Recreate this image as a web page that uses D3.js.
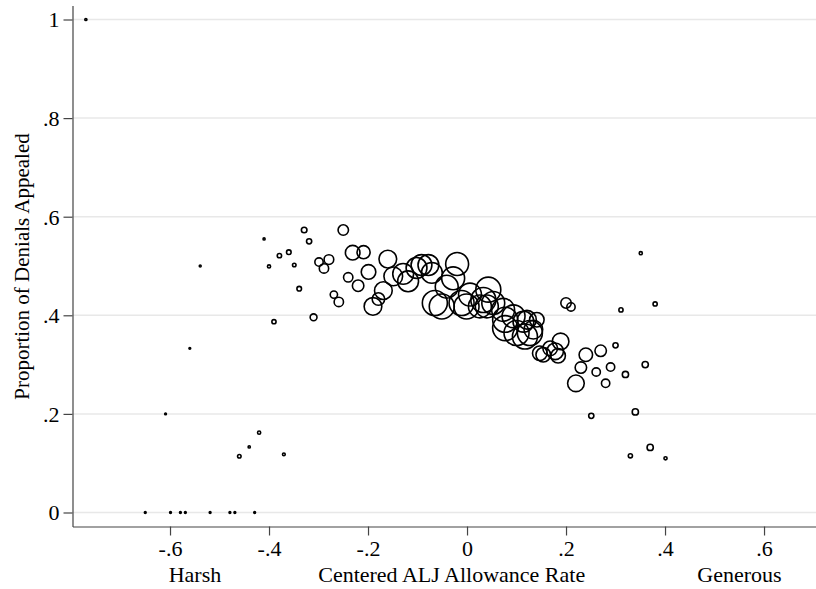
<!DOCTYPE html>
<html>
<head>
<meta charset="utf-8">
<script src="https://cdn.jsdelivr.net/npm/d3@7"></script>
<style>
  body { margin: 0; background: #fff; }
  svg text { font-family: "Liberation Serif", "Times New Roman", serif; fill: #000; }
</style>
</head>
<body>
<svg></svg>
<script>
var width = 816;
var height = 589;

// centered ALJ allowance rate (x), proportion of denials appealed (y), caseload (marker weight)
var allowance = [
  -0.770, -0.650, -0.599, -0.579, -0.569, -0.519, -0.479, -0.469, -0.429,
  -0.609, -0.560, -0.539, -0.440, -0.420, -0.460, -0.370, -0.390, -0.410,
  -0.400, -0.379, -0.360, -0.349, -0.339, -0.329, -0.319, -0.310, -0.250,
  -0.299, -0.279, -0.289, -0.231, -0.209, -0.240, -0.220, -0.199, -0.269,
  -0.259, -0.160, -0.190, -0.179, -0.169, -0.149, -0.129, -0.119, -0.102,
  -0.092, -0.078, -0.071, -0.020, -0.041, -0.028, -0.065, -0.051, -0.011,
  -0.001, 0.006, 0.033, 0.043, 0.026, 0.053, 0.077, 0.094, 0.121,
  0.100, 0.127, 0.141, 0.147, 0.040, 0.073, 0.114, 0.077, 0.117,
  0.134, 0.154, 0.168, 0.178, 0.189, 0.184, 0.200, 0.210, 0.311,
  0.380, 0.351, 0.300, 0.240, 0.270, 0.230, 0.261, 0.290, 0.320,
  0.360, 0.220, 0.280, 0.251, 0.340, 0.370, 0.330, 0.401
];
var appealed = [
  1.000, 0, 0, 0, 0, 0, 0, 0, 0,
  0.200, 0.333, 0.500, 0.133, 0.162, 0.114, 0.118, 0.387, 0.555,
  0.499, 0.521, 0.528, 0.502, 0.454, 0.573, 0.550, 0.396, 0.573,
  0.508, 0.513, 0.495, 0.527, 0.528, 0.477, 0.460, 0.488, 0.442,
  0.427, 0.514, 0.418, 0.433, 0.450, 0.479, 0.484, 0.469, 0.496,
  0.502, 0.502, 0.486, 0.504, 0.458, 0.475, 0.425, 0.418, 0.425,
  0.418, 0.442, 0.431, 0.452, 0.418, 0.425, 0.391, 0.398, 0.391,
  0.364, 0.364, 0.391, 0.323, 0.418, 0.411, 0.387, 0.374, 0.357,
  0.371, 0.320, 0.333, 0.327, 0.347, 0.318, 0.425, 0.417, 0.411,
  0.423, 0.526, 0.339, 0.320, 0.328, 0.294, 0.285, 0.295, 0.280,
  0.300, 0.262, 0.262, 0.196, 0.204, 0.132, 0.115, 0.110
];
var caseload = [
  7, 5, 5, 5, 5, 5, 5, 5, 5,
  5, 5, 6, 8, 16, 20, 12, 28, 7,
  16, 30, 34, 20, 34, 50, 43, 75, 174,
  111, 150, 140, 340, 275, 140, 210, 340, 85,
  140, 500, 500, 250, 500, 560, 694, 694, 694,
  694, 694, 694, 840, 840, 840, 1000, 1000, 1000,
  1000, 840, 1000, 1000, 840, 840, 1000, 840, 560,
  1000, 1000, 340, 340, 840, 840, 694, 1000, 1000,
  560, 340, 340, 444, 444, 340, 174, 111, 28,
  28, 16, 43, 290, 210, 210, 111, 111, 62,
  62, 444, 111, 43, 62, 62, 28, 16
];

var xTicks = [-0.6, -0.4, -0.2, 0, 0.2, 0.4, 0.6];
var xTickLabels = ['-.6', '-.4', '-.2', '0', '.2', '.4', '.6'];
var yTicks = [0, 0.2, 0.4, 0.6, 0.8, 1];
var yTickLabels = ['0', '.2', '.4', '.6', '.8', '1'];

var data = allowance.map(function(d, i){
  return { x: d, y: appealed[i], n: caseload[i] };
});

var plotLeft = 72.5;
var plotRight = 816.5;
var plotTop = 5.5;
var plotBottom = 526.5;

var xScale = d3.scaleLinear()
  .domain([-0.797, 0.706])
  .range([plotLeft, plotRight]);

var yScale = d3.scaleLinear()
  .domain([-0.0284, 1.0284])
  .range([plotBottom, plotTop]);

var rScale = d3.scaleSqrt()
  .domain([0, 1000])
  .range([0, 12.5]);

var svg = d3.select('svg')
  .attr('width', width)
  .attr('height', height);

// gridlines
svg.append('g')
  .selectAll('line')
  .data(yTicks)
  .enter()
  .append('line')
    .attr('x1', plotLeft)
    .attr('x2', plotRight)
    .attr('y1', d => yScale(d))
    .attr('y2', d => yScale(d))
    .attr('stroke', '#e8e8e8')
    .attr('stroke-width', 1.5);

var yAxis = svg.append('g')
  .attr('transform', `translate(${plotLeft}, 0)`)
  .call(d3.axisLeft(yScale)
    .tickValues(yTicks)
    .tickFormat((d, i) => yTickLabels[i])
    .tickSize(9)
    .tickSizeOuter(0)
    .tickPadding(4));

var xAxis = svg.append('g')
  .attr('transform', `translate(0, ${plotBottom})`)
  .call(d3.axisBottom(xScale)
    .tickValues(xTicks)
    .tickFormat((d, i) => xTickLabels[i])
    .tickSize(9)
    .tickSizeOuter(0)
    .tickPadding(3));

svg.selectAll('.domain, .tick line')
  .attr('stroke', '#444')
  .attr('stroke-width', 1.2);

svg.selectAll('.tick text')
  .style('font-family', '"Liberation Serif", serif')
  .style('font-size', '22px')
  .attr('fill', '#000');

xAxis.selectAll('.tick text').attr('dy', '0.8em');
yAxis.selectAll('.tick text').attr('dy', '0.34em');

// markers
svg.append('g')
  .selectAll('circle')
  .data(data)
  .enter()
  .append('circle')
    .attr('cx', d => xScale(d.x))
    .attr('cy', d => yScale(d.y))
    .attr('r', d => rScale(d.n))
    .attr('fill', 'none')
    .attr('stroke', '#000')
    .attr('stroke-width', 1.6);

// axis titles
svg.append('text')
  .attr('x', 451.7)
  .attr('y', 582)
  .style('text-anchor', 'middle')
  .style('font-size', '22px')
  .text('Centered ALJ Allowance Rate');

svg.append('text')
  .attr('x', 195)
  .attr('y', 582)
  .style('text-anchor', 'middle')
  .style('font-size', '22px')
  .text('Harsh');

svg.append('text')
  .attr('x', 739.5)
  .attr('y', 582)
  .style('text-anchor', 'middle')
  .style('font-size', '22px')
  .text('Generous');

svg.append('text')
  .attr('transform', 'rotate(-90)')
  .attr('x', -266.5)
  .attr('y', 29)
  .style('text-anchor', 'middle')
  .style('font-size', '21px')
  .text('Proportion of Denials Appealed');
</script>
</body>
</html>
